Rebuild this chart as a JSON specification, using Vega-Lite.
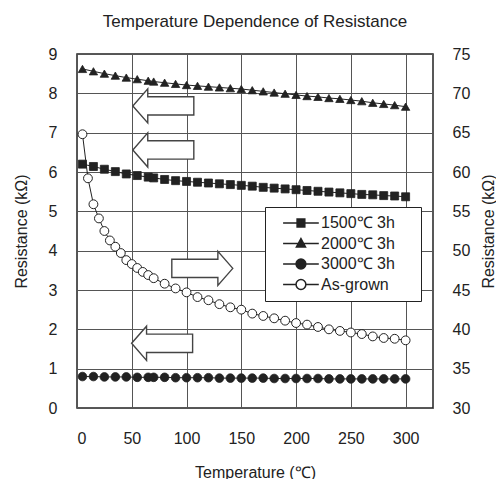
{
  "$schema": "https://vega.github.io/schema/vega-lite/v6.json",
  "width": 356,
  "height": 354,
  "autosize": "none",
  "padding": {"left": 77, "top": 54, "right": 63, "bottom": 71},
  "background": "white",
  "title": {"text": "Temperature Dependence of Resistance", "fontSize": 17, "fontWeight": "normal", "font": "Liberation Sans", "color": "#222", "offset": 15, "anchor": "middle"},
  "config": {
    "font": "Liberation Sans",
    "view": {"stroke": "#222", "strokeWidth": 1.5},
    "axis": {"labelFont": "Liberation Sans", "titleFont": "Liberation Sans", "labelFontSize": 16, "titleFontSize": 16, "titleFontWeight": "normal", "labelColor": "#222", "titleColor": "#222", "domain": false, "ticks": false, "gridColor": "#555", "gridWidth": 1, "gridOpacity": 1}
  },
  "datasets": {
    "series": [
      {"series": "2000℃ 3h", "T": 5, "R": 8.62}, {"series": "2000℃ 3h", "T": 15, "R": 8.56}, {"series": "2000℃ 3h", "T": 25, "R": 8.5}, {"series": "2000℃ 3h", "T": 35, "R": 8.45}, {"series": "2000℃ 3h", "T": 45, "R": 8.4}, {"series": "2000℃ 3h", "T": 55, "R": 8.36}, {"series": "2000℃ 3h", "T": 65, "R": 8.32}, {"series": "2000℃ 3h", "T": 70, "R": 8.3}, {"series": "2000℃ 3h", "T": 80, "R": 8.27}, {"series": "2000℃ 3h", "T": 90, "R": 8.24}, {"series": "2000℃ 3h", "T": 100, "R": 8.21}, {"series": "2000℃ 3h", "T": 110, "R": 8.19}, {"series": "2000℃ 3h", "T": 120, "R": 8.17}, {"series": "2000℃ 3h", "T": 130, "R": 8.15}, {"series": "2000℃ 3h", "T": 140, "R": 8.13}, {"series": "2000℃ 3h", "T": 150, "R": 8.11}, {"series": "2000℃ 3h", "T": 160, "R": 8.08}, {"series": "2000℃ 3h", "T": 170, "R": 8.05}, {"series": "2000℃ 3h", "T": 180, "R": 8.02}, {"series": "2000℃ 3h", "T": 190, "R": 7.99}, {"series": "2000℃ 3h", "T": 200, "R": 7.96}, {"series": "2000℃ 3h", "T": 210, "R": 7.93}, {"series": "2000℃ 3h", "T": 220, "R": 7.91}, {"series": "2000℃ 3h", "T": 230, "R": 7.88}, {"series": "2000℃ 3h", "T": 240, "R": 7.86}, {"series": "2000℃ 3h", "T": 250, "R": 7.83}, {"series": "2000℃ 3h", "T": 260, "R": 7.8}, {"series": "2000℃ 3h", "T": 270, "R": 7.76}, {"series": "2000℃ 3h", "T": 280, "R": 7.73}, {"series": "2000℃ 3h", "T": 290, "R": 7.7}, {"series": "2000℃ 3h", "T": 300, "R": 7.66},
      {"series": "1500℃ 3h", "T": 5, "R": 6.2}, {"series": "1500℃ 3h", "T": 15, "R": 6.14}, {"series": "1500℃ 3h", "T": 25, "R": 6.07}, {"series": "1500℃ 3h", "T": 35, "R": 6.01}, {"series": "1500℃ 3h", "T": 45, "R": 5.95}, {"series": "1500℃ 3h", "T": 55, "R": 5.91}, {"series": "1500℃ 3h", "T": 65, "R": 5.87}, {"series": "1500℃ 3h", "T": 70, "R": 5.85}, {"series": "1500℃ 3h", "T": 80, "R": 5.81}, {"series": "1500℃ 3h", "T": 90, "R": 5.78}, {"series": "1500℃ 3h", "T": 100, "R": 5.76}, {"series": "1500℃ 3h", "T": 110, "R": 5.74}, {"series": "1500℃ 3h", "T": 120, "R": 5.72}, {"series": "1500℃ 3h", "T": 130, "R": 5.7}, {"series": "1500℃ 3h", "T": 140, "R": 5.68}, {"series": "1500℃ 3h", "T": 150, "R": 5.66}, {"series": "1500℃ 3h", "T": 160, "R": 5.64}, {"series": "1500℃ 3h", "T": 170, "R": 5.61}, {"series": "1500℃ 3h", "T": 180, "R": 5.59}, {"series": "1500℃ 3h", "T": 190, "R": 5.57}, {"series": "1500℃ 3h", "T": 200, "R": 5.55}, {"series": "1500℃ 3h", "T": 210, "R": 5.53}, {"series": "1500℃ 3h", "T": 220, "R": 5.51}, {"series": "1500℃ 3h", "T": 230, "R": 5.49}, {"series": "1500℃ 3h", "T": 240, "R": 5.47}, {"series": "1500℃ 3h", "T": 250, "R": 5.45}, {"series": "1500℃ 3h", "T": 260, "R": 5.43}, {"series": "1500℃ 3h", "T": 270, "R": 5.42}, {"series": "1500℃ 3h", "T": 280, "R": 5.4}, {"series": "1500℃ 3h", "T": 290, "R": 5.39}, {"series": "1500℃ 3h", "T": 300, "R": 5.37},
      {"series": "3000℃ 3h", "T": 5, "R": 0.8}, {"series": "3000℃ 3h", "T": 15, "R": 0.8}, {"series": "3000℃ 3h", "T": 25, "R": 0.79}, {"series": "3000℃ 3h", "T": 35, "R": 0.79}, {"series": "3000℃ 3h", "T": 45, "R": 0.79}, {"series": "3000℃ 3h", "T": 55, "R": 0.78}, {"series": "3000℃ 3h", "T": 65, "R": 0.78}, {"series": "3000℃ 3h", "T": 70, "R": 0.78}, {"series": "3000℃ 3h", "T": 80, "R": 0.78}, {"series": "3000℃ 3h", "T": 90, "R": 0.77}, {"series": "3000℃ 3h", "T": 100, "R": 0.77}, {"series": "3000℃ 3h", "T": 110, "R": 0.77}, {"series": "3000℃ 3h", "T": 120, "R": 0.77}, {"series": "3000℃ 3h", "T": 130, "R": 0.76}, {"series": "3000℃ 3h", "T": 140, "R": 0.76}, {"series": "3000℃ 3h", "T": 150, "R": 0.76}, {"series": "3000℃ 3h", "T": 160, "R": 0.76}, {"series": "3000℃ 3h", "T": 170, "R": 0.76}, {"series": "3000℃ 3h", "T": 180, "R": 0.75}, {"series": "3000℃ 3h", "T": 190, "R": 0.75}, {"series": "3000℃ 3h", "T": 200, "R": 0.75}, {"series": "3000℃ 3h", "T": 210, "R": 0.75}, {"series": "3000℃ 3h", "T": 220, "R": 0.75}, {"series": "3000℃ 3h", "T": 230, "R": 0.74}, {"series": "3000℃ 3h", "T": 240, "R": 0.74}, {"series": "3000℃ 3h", "T": 250, "R": 0.74}, {"series": "3000℃ 3h", "T": 260, "R": 0.74}, {"series": "3000℃ 3h", "T": 270, "R": 0.74}, {"series": "3000℃ 3h", "T": 280, "R": 0.74}, {"series": "3000℃ 3h", "T": 290, "R": 0.74}, {"series": "3000℃ 3h", "T": 300, "R": 0.74},
      {"series": "As-grown", "T": 5, "R": 64.8}, {"series": "As-grown", "T": 10, "R": 59.2}, {"series": "As-grown", "T": 15, "R": 55.9}, {"series": "As-grown", "T": 20, "R": 54.1}, {"series": "As-grown", "T": 25, "R": 52.5}, {"series": "As-grown", "T": 30, "R": 51.3}, {"series": "As-grown", "T": 35, "R": 50.5}, {"series": "As-grown", "T": 40, "R": 49.7}, {"series": "As-grown", "T": 45, "R": 48.8}, {"series": "As-grown", "T": 50, "R": 48.3}, {"series": "As-grown", "T": 55, "R": 47.8}, {"series": "As-grown", "T": 60, "R": 47.3}, {"series": "As-grown", "T": 65, "R": 46.9}, {"series": "As-grown", "T": 70, "R": 46.5}, {"series": "As-grown", "T": 80, "R": 45.8}, {"series": "As-grown", "T": 90, "R": 45.2}, {"series": "As-grown", "T": 100, "R": 44.7}, {"series": "As-grown", "T": 110, "R": 44.1}, {"series": "As-grown", "T": 120, "R": 43.7}, {"series": "As-grown", "T": 130, "R": 43.2}, {"series": "As-grown", "T": 140, "R": 42.8}, {"series": "As-grown", "T": 150, "R": 42.5}, {"series": "As-grown", "T": 160, "R": 42.0}, {"series": "As-grown", "T": 170, "R": 41.7}, {"series": "As-grown", "T": 180, "R": 41.4}, {"series": "As-grown", "T": 190, "R": 41.1}, {"series": "As-grown", "T": 200, "R": 40.8}, {"series": "As-grown", "T": 210, "R": 40.6}, {"series": "As-grown", "T": 220, "R": 40.3}, {"series": "As-grown", "T": 230, "R": 40.0}, {"series": "As-grown", "T": 240, "R": 39.8}, {"series": "As-grown", "T": 250, "R": 39.6}, {"series": "As-grown", "T": 260, "R": 39.4}, {"series": "As-grown", "T": 270, "R": 39.1}, {"series": "As-grown", "T": 280, "R": 38.9}, {"series": "As-grown", "T": 290, "R": 38.8}, {"series": "As-grown", "T": 300, "R": 38.6}
    ],
    "arrows": [
      {"dir": "left", "T": 78.8, "R": 7.68},
      {"dir": "left", "T": 78.8, "R": 6.56},
      {"dir": "left", "T": 77.7, "R": 1.645},
      {"dir": "right", "T": 114.4, "R": 3.55}
    ]
  },
  "encoding": {
    "x": {"field": "T", "type": "quantitative", "scale": {"domain": [0, 325], "nice": false, "zero": false},
      "axis": {"values": [0, 50, 100, 150, 200, 250, 300], "grid": true, "title": "Temperature (℃)", "labelPadding": 22, "titlePadding": 18}}
  },
  "layer": [
    {
      "encoding": {
        "y": {"field": "R", "type": "quantitative", "scale": {"domain": [0, 9], "nice": false, "zero": false},
          "axis": {"orient": "left", "values": [0, 1, 2, 3, 4, 5, 6, 7, 8, 9], "grid": true, "title": "Resistance (kΩ)", "labelPadding": 20, "titlePadding": 19}}
      },
      "layer": [
        {
          "data": {"name": "arrows"},
          "transform": [{"filter": "datum.dir === 'left'"}],
          "mark": {"type": "point", "shape": "M-1,0L-0.51,-0.56L-0.51,-0.3L1,-0.3L1,0.3L-0.51,0.3L-0.51,0.56Z", "size": 3721, "filled": true, "fill": "white", "stroke": "#444", "strokeWidth": 1.4, "opacity": 1}
        },
        {
          "data": {"name": "arrows"},
          "transform": [{"filter": "datum.dir === 'right'"}],
          "mark": {"type": "point", "shape": "M1,0L0.51,-0.56L0.51,-0.3L-1,-0.3L-1,0.3L0.51,0.3L0.51,0.56Z", "size": 3721, "filled": true, "fill": "white", "stroke": "#444", "strokeWidth": 1.4, "opacity": 1}
        },
        {
          "data": {"name": "series"},
          "transform": [{"filter": "datum.series !== 'As-grown'"}],
          "mark": {"type": "line", "color": "#222", "strokeWidth": 1},
          "encoding": {"detail": {"field": "series"}}
        },
        {
          "data": {"name": "series"},
          "transform": [{"filter": "datum.series === '1500℃ 3h'"}],
          "mark": {"type": "point", "shape": "square", "filled": true, "fill": "#222", "stroke": "#222", "strokeWidth": 0.8, "size": 64, "opacity": 1}
        },
        {
          "data": {"name": "series"},
          "transform": [{"filter": "datum.series === '2000℃ 3h'"}],
          "mark": {"type": "point", "shape": "triangle-up", "filled": true, "fill": "#222", "stroke": "#222", "strokeWidth": 0.8, "size": 70, "opacity": 1}
        },
        {
          "data": {"name": "series"},
          "transform": [{"filter": "datum.series === '3000℃ 3h'"}],
          "mark": {"type": "point", "shape": "circle", "filled": true, "fill": "#222", "stroke": "#222", "strokeWidth": 0.8, "size": 75, "opacity": 1}
        },
        {
          "data": {"name": "series"},
          "transform": [{"filter": "datum.T === 5 && datum.series !== 'As-grown'"}],
          "mark": {"type": "point", "filled": true, "stroke": "#222", "strokeWidth": 1, "size": 64, "opacity": 0},
          "encoding": {
            "shape": {"field": "series", "type": "nominal",
              "scale": {"domain": ["1500℃ 3h", "2000℃ 3h", "3000℃ 3h", "As-grown"],
                "range": ["M0.3,0H5.4M2.3,-0.57H3.4V0.57H2.3Z", "M0.3,0H5.4M2.85,-0.7L3.5,0.5H2.2Z", "M0.3,0H5.4M2.15,0A0.7,0.7,0,1,1,3.55,0A0.7,0.7,0,1,1,2.15,0Z", "M0.3,0H2.15M3.55,0H5.4M2.15,0A0.7,0.7,0,1,1,3.55,0A0.7,0.7,0,1,1,2.15,0Z"]},
              "legend": {"title": null, "orient": "none", "legendX": 188, "legendY": 153, "padding": 8, "rowPadding": 4.5, "strokeColor": "#222", "fillColor": "white", "labelFontSize": 16, "labelFont": "Liberation Sans", "labelColor": "#222", "symbolSize": 196, "symbolOpacity": 1, "labelOffset": 32,
                "labelExpr": "datum.label + '\u00a0\u00a0\u00a0\u00a0\u200b'",
                "encode": {"symbols": {"stroke": {"value": "#222"}, "strokeWidth": {"value": 1}}}}},
            "fill": {"field": "series", "type": "nominal", "scale": {"domain": ["1500℃ 3h", "2000℃ 3h", "3000℃ 3h", "As-grown"], "range": ["#222", "#222", "#222", "white"]}, "legend": null}
          }
        }
      ]
    },
    {
      "data": {"name": "series"},
      "transform": [{"filter": "datum.series === 'As-grown'"}],
      "encoding": {
        "y": {"field": "R", "type": "quantitative", "scale": {"domain": [30, 75], "nice": false, "zero": false},
          "axis": {"orient": "right", "values": [30, 35, 40, 45, 50, 55, 60, 65, 70, 75], "grid": false, "title": "Resistance (kΩ)", "titleAngle": 270, "labelPadding": 19, "titlePadding": 27}}
      },
      "layer": [
        {"mark": {"type": "line", "color": "#222", "strokeWidth": 1}},
        {"mark": {"type": "point", "shape": "circle", "filled": true, "fill": "white", "stroke": "#222", "strokeWidth": 1, "size": 78, "opacity": 1}}
      ]
    }
  ],
  "resolve": {"scale": {"y": "independent"}}
}
